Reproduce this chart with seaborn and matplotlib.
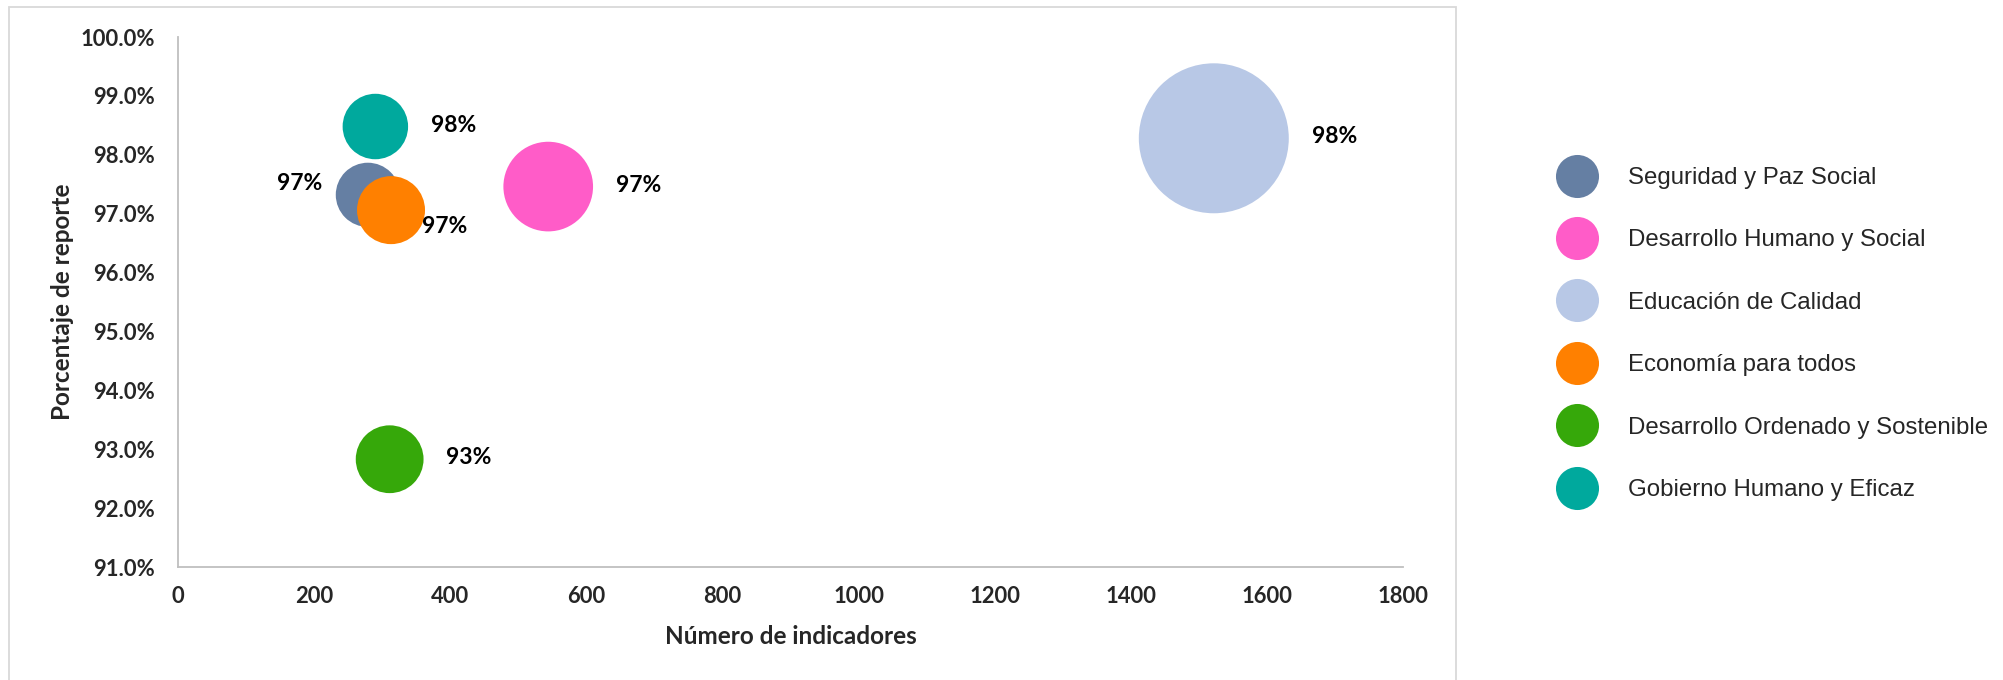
import matplotlib
matplotlib.use("Agg")
import matplotlib.pyplot as plt
import seaborn as sns
import pandas as pd
from matplotlib.lines import Line2D
from matplotlib.patches import Rectangle
from matplotlib.ticker import PercentFormatter

# datos
ejes = ["Seguridad y Paz Social", "Desarrollo Humano y Social", "Educación de Calidad",
        "Economía para todos", "Desarrollo Ordenado y Sostenible", "Gobierno Humano y Eficaz"]
indicadores = [279, 544, 1522, 313, 311, 290]
porcentaje = [0.9732, 0.9746, 0.9828, 0.9706, 0.9283, 0.9848]
colores = ["#657FA3", "#FF5CC8", "#B8C8E6", "#FF8000", "#36A80A", "#00A99D"]

df = pd.DataFrame({"eje": ejes, "x": indicadores, "y": porcentaje})

sns.set_theme(style="white")
plt.rcParams["font.family"] = ["Lato", "DejaVu Sans"]

fig = plt.figure(figsize=(20.03, 6.8), dpi=100)
ax = fig.add_axes([178 / 2003, 1 - 567 / 680, 1225 / 2003, 530 / 680])

# burbujas: el area es proporcional al numero de indicadores
k = 7.66
sns.scatterplot(data=df, x="x", y="y", hue="eje", palette=colores, size="x",
                sizes=(0, k * 1800), size_norm=(0, 1800), linewidth=0, alpha=1,
                legend=False, ax=ax, clip_on=False)

ax.set_xlim(0, 1800)
ax.set_ylim(0.91, 1.0)
ax.set_xticks(range(0, 1801, 200))
ax.set_yticks([0.91 + 0.01 * i for i in range(10)])
ax.yaxis.set_major_formatter(PercentFormatter(xmax=1, decimals=1))
ax.tick_params(axis="both", length=0, labelsize=15.8)
ax.tick_params(axis="y", pad=16.5)
ax.tick_params(axis="x", pad=14)
for t in ax.get_xticklabels() + ax.get_yticklabels():
    t.set_fontweight("bold")

ax.set_xlabel("Número de indicadores", fontsize=17.5, fontweight="bold", va="center")
ax.set_ylabel("Porcentaje de reporte", fontsize=17.5, fontweight="bold", va="center",
              rotation_mode="anchor")
ax.xaxis.set_label_coords(0.5, -70 / 530)
ax.yaxis.set_label_coords(-116 / 1225, 0.5)

sns.despine(ax=ax)
for s in ["left", "bottom"]:
    ax.spines[s].set_color("#BFBFBF")
    ax.spines[s].set_linewidth(1.3)

# etiquetas de datos
for i, (xv, yv) in enumerate(zip(indicadores, porcentaje)):
    r = (k * xv) ** 0.5 / 2
    if i == 0:
        off, ha = (-32.5, 8.5), "right"
    elif i == 3:
        off, ha = (22, -12), "left"
    else:
        off, ha = (r + 16.5, 1), "left"
    ax.annotate(f"{yv:.0%}", (xv, yv), xytext=off, textcoords="offset points",
                ha=ha, va="center", fontsize=16.5, fontweight="bold", color="black")

# marco del area del grafico
fig.patches.append(Rectangle((9 / 2003, -0.05), 1447 / 2003, 1.05 - 7 / 680,
                             transform=fig.transFigure, fill=False,
                             edgecolor="#D9D9D9", linewidth=1.3))

handles = [Line2D([], [], marker="o", ls="", markersize=31, markerfacecolor=c,
                  markeredgewidth=0) for c in colores]
fig.legend(handles, ejes, loc="center left", bbox_to_anchor=(1555.5 / 2003, 1 - 334 / 680),
           frameon=False, borderpad=0, borderaxespad=0, handlelength=1.8,
           handletextpad=1.23, labelspacing=1.68,
           prop={"family": "Liberation Sans", "size": 17.3})

fig.savefig("out.png", dpi=100)
